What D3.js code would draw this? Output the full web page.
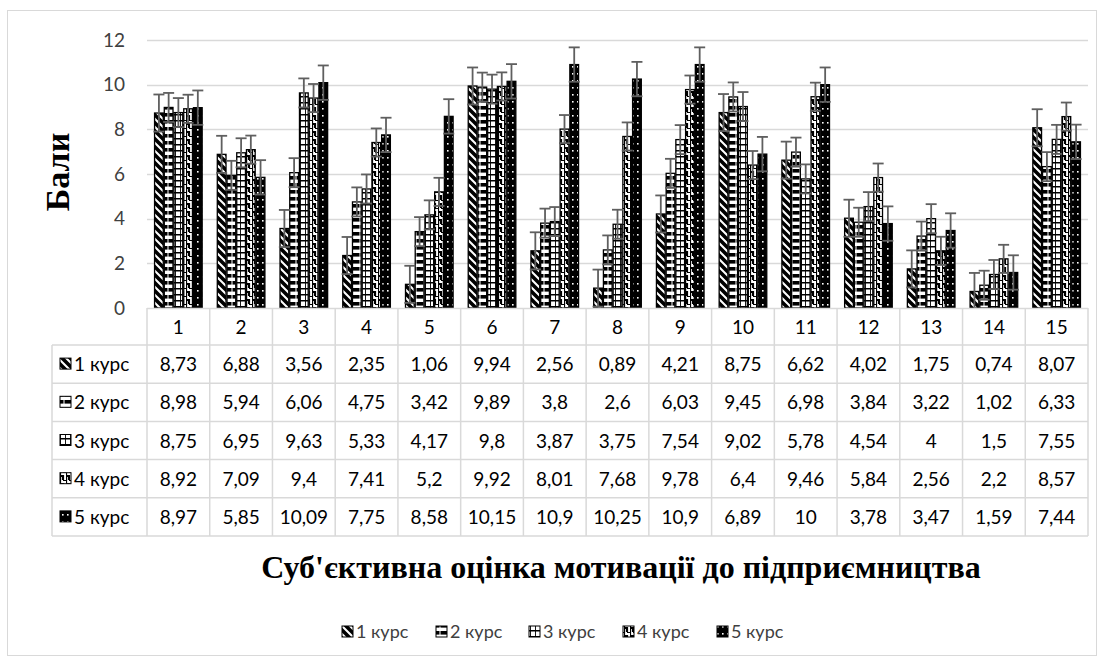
<!DOCTYPE html>
<html><head><meta charset="utf-8">
<script src="https://cdn.jsdelivr.net/npm/d3@7"></script>
<style>body{margin:0;background:#fff}svg{display:block}</style>
</head><body>
<svg id="c" width="1104" height="662"></svg>
<script>
const categories = ["1","2","3","4","5","6","7","8","9","10","11","12","13","14","15"];
const seriesNames = ["1 курс","2 курс","3 курс","4 курс","5 курс"];
const s1 = [8.73,6.88,3.56,2.35,1.06,9.94,2.56,0.89,4.21,8.75,6.62,4.02,1.75,0.74,8.07];
const s2 = [8.98,5.94,6.06,4.75,3.42,9.89,3.8,2.6,6.03,9.45,6.98,3.84,3.22,1.02,6.33];
const s3 = [8.75,6.95,9.63,5.33,4.17,9.8,3.87,3.75,7.54,9.02,5.78,4.54,4,1.5,7.55];
const s4 = [8.92,7.09,9.4,7.41,5.2,9.92,8.01,7.68,9.78,6.4,9.46,5.84,2.56,2.2,8.57];
const s5 = [8.97,5.85,10.09,7.75,8.58,10.15,10.9,10.25,10.9,6.89,10,3.78,3.47,1.59,7.44];
const errors = [0.83,0.65,0.65,0.63,0.77];
const yTicks = [0,2,4,6,8,10,12];
const yTitle = "Бали";
const xTitle = "Суб'єктивна оцінка мотивації до підприємництва";

const series = [s1,s2,s3,s4,s5];
const svg = d3.select("#c");
const FONT = "Lato, 'Open Sans', sans-serif";
const SERIF = "'Liberation Serif', 'DejaVu Serif', serif";
const GRID = "#d9d9d9";

// patterns
const defs = svg.append("defs");
function pat(id, w, h, draw){
  const p = defs.append("pattern").attr("id", id).attr("patternUnits","userSpaceOnUse")
    .attr("width", w).attr("height", h);
  draw(p);
}
pat("p1", 8, 8, p => {
  p.append("rect").attr("width",8).attr("height",8).attr("fill","#fff");
  p.append("path").attr("d","M-2,-2 L10,10 M-2,6 L2,10 M6,-2 L10,2").attr("stroke","#000").attr("stroke-width",3.6);
});
pat("p2", 8, 7, p => {
  p.append("rect").attr("width",8).attr("height",7).attr("fill","#fff");
  p.append("rect").attr("x",0.5).attr("y",1).attr("width",7).attr("height",3.6).attr("fill","#000");
});
pat("p3", 5, 6, p => {
  p.append("rect").attr("width",5).attr("height",6).attr("fill","#fff");
  p.append("path").attr("d","M0,0 V6 M0,0.6 H5").attr("stroke","#000").attr("stroke-width",1.8);
});
pat("p4", 6, 8, p => {
  p.append("rect").attr("width",6).attr("height",8).attr("fill","#fff");
  p.append("path").attr("d","M0,0 V4 H3 V8 M3,0 H6 M0,8 V4").attr("stroke","#000").attr("stroke-width",2.2).attr("fill","none");
});
pat("p5", 5, 7, p => {
  p.append("rect").attr("width",5).attr("height",7).attr("fill","#000");
  p.append("rect").attr("x",2).attr("y",3).attr("width",1.6).attr("height",1.6).attr("fill","#fff");
});
const patIds = ["p1","p2","p3","p4","p5"];

// outer border
svg.append("rect").attr("x",7.5).attr("y",10.5).attr("width",1089).attr("height",645)
  .attr("fill","none").attr("stroke",GRID);

const plotL = 147, plotR = 1088, plotT = 40, plotB = 308;
const y = d3.scaleLinear().domain([0,12]).range([plotB, plotT]);
const x0 = d3.scaleBand().domain(categories).range([plotL, plotR]).paddingInner(0.225).paddingOuter(0.1125);
const x1 = d3.scaleBand().domain(d3.range(5)).range([0, x0.bandwidth()]);

// gridlines
svg.append("g").selectAll("line").data(yTicks.filter(t=>t>0)).join("line")
  .attr("x1",plotL).attr("x2",plotR).attr("y1",d=>Math.round(y(d))+0.5).attr("y2",d=>Math.round(y(d))+0.5)
  .attr("stroke",GRID).attr("stroke-width",1.5);

// y axis labels
const yAxis = d3.axisLeft(y).tickValues(yTicks).tickSize(0).tickPadding(0);
const ga = svg.append("g").attr("transform",`translate(${plotL-22},0)`).call(yAxis);
ga.select(".domain").remove();
ga.selectAll("text").attr("font-family",FONT).attr("font-size",19).attr("fill","#404040");

// bars
const gBars = svg.append("g");
series.forEach((vals, si) => {
  gBars.append("g").selectAll("rect").data(vals).join("rect")
    .attr("x",(d,i)=>x0(categories[i])+x1(si)+0.5)
    .attr("y",d=>y(d))
    .attr("width",x1.bandwidth()-1)
    .attr("height",d=>plotB-y(d))
    .attr("fill",`url(#${patIds[si]})`)
    .attr("stroke","#000").attr("stroke-width",1.3);
});
// error bars
series.forEach((vals, si) => {
  const g = gBars.append("g").attr("stroke","#5f5f5f").attr("stroke-width",1.8);
  vals.forEach((v,i) => {
    const cx = x0(categories[i])+x1(si)+x1.bandwidth()/2;
    const e = errors[si];
    const lo = Math.max(0, v-e);
    g.append("line").attr("x1",cx).attr("x2",cx).attr("y1",y(v+e)).attr("y2",y(lo));
    g.append("line").attr("x1",cx-5.5).attr("x2",cx+5.5).attr("y1",y(v+e)).attr("y2",y(v+e));
    if (v-e>0) g.append("line").attr("x1",cx-5.5).attr("x2",cx+5.5).attr("y1",y(lo)).attr("y2",y(lo));
  });
});

// data table
const tblL = 52, rowH = 38.2, headB = 345;
const step = x0.step();
const tb = svg.append("g");
tb.append("line").attr("x1",plotL).attr("x2",plotR).attr("y1",plotB+0.5).attr("y2",plotB+0.5).attr("stroke",GRID).attr("stroke-width",1.5);
const nRows = 5;
const tblB = headB + nRows*rowH;
d3.range(nRows+1).forEach(r => {
  tb.append("line").attr("x1",tblL).attr("x2",plotR).attr("y1",headB+r*rowH).attr("y2",headB+r*rowH).attr("stroke",GRID).attr("stroke-width",1.5);
});
tb.append("line").attr("x1",tblL).attr("x2",tblL).attr("y1",headB).attr("y2",tblB).attr("stroke",GRID).attr("stroke-width",1.5);
d3.range(categories.length+1).forEach(c => {
  const xx = plotL + c*step;
  tb.append("line").attr("x1",xx).attr("x2",xx).attr("y1",plotB).attr("y2",tblB).attr("stroke",GRID).attr("stroke-width",1.5);
});
tb.selectAll("text.h").data(categories).join("text").attr("class","h")
  .attr("x",d=>x0(d)+x0.bandwidth()/2).attr("y",(plotB+headB)/2+7)
  .attr("text-anchor","middle").attr("font-family",FONT).attr("font-size",19).attr("fill","#000").text(d=>d);
const fmt = v => String(v).replace(".",",");
series.forEach((vals, si) => {
  const cy = headB + si*rowH + rowH/2 + 7;
  tb.append("g").selectAll("text").data(vals).join("text")
    .attr("x",(d,i)=>x0(categories[i])+x0.bandwidth()/2).attr("y",cy)
    .attr("text-anchor","middle").attr("font-family",FONT).attr("font-size",19).attr("fill","#000").text(fmt);
  tb.append("rect").attr("x",60).attr("y",cy-13).attr("width",11).attr("height",11)
    .attr("fill",`url(#${patIds[si]})`).attr("stroke","#000").attr("stroke-width",1);
  tb.append("text").attr("x",74).attr("y",cy).attr("font-family",FONT).attr("font-size",19).attr("fill","#000").text(seriesNames[si]);
});

// titles
svg.append("text").attr("x",621).attr("y",578).attr("text-anchor","middle")
  .attr("font-family",SERIF).attr("font-weight","bold").attr("font-size",32).attr("fill","#000").text(xTitle);
svg.append("text").attr("transform","translate(69,172) rotate(-90)").attr("text-anchor","middle")
  .attr("font-family",SERIF).attr("font-weight","bold").attr("font-size",34).attr("fill","#000").text(yTitle);

// legend
const lg = svg.append("g");
const legX = [342,436,529,623,717];
seriesNames.forEach((n,i) => {
  lg.append("rect").attr("x",legX[i]).attr("y",626).attr("width",11).attr("height",11)
    .attr("fill",`url(#${patIds[i]})`).attr("stroke","#000").attr("stroke-width",1);
  lg.append("text").attr("x",legX[i]+14).attr("y",638).attr("font-family",FONT).attr("font-size",18).attr("fill","#404040").text(n);
});
</script>
</body></html>
